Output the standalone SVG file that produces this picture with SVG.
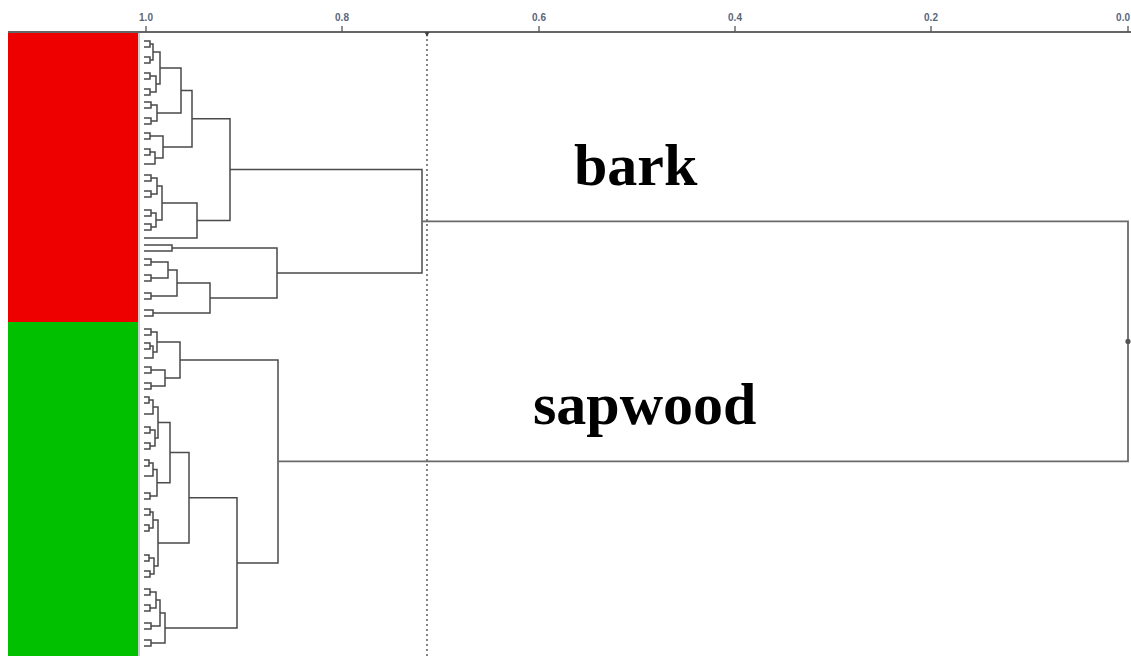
<svg xmlns="http://www.w3.org/2000/svg" width="1131" height="656" viewBox="0 0 1131 656">
  <style>
    .tick-label { font-family: "Liberation Sans", Arial, sans-serif; font-size: 10px; font-weight: bold; fill: #5b6578; text-anchor: middle; }
    .tick { stroke: #555; stroke-width: 1.3; }
    .axis { stroke: #666; stroke-width: 2; }
    .branch { fill: none; stroke: #4a4a4a; stroke-width: 1.5; stroke-linejoin: miter; }
    .trunk { fill: none; stroke: #6a6a6a; stroke-width: 1.8; }
    .cut { stroke: #444; stroke-width: 1.3; stroke-dasharray: 2 3; }
    .group-label { font-family: "Liberation Serif", "Times New Roman", serif; font-size: 60px; font-weight: bold; fill: #000; }
  </style>

  <rect width="1131" height="656" fill="#ffffff"/>

  <!-- class colour bars -->
  <g id="bar-bark">
    <rect x="8" y="32" width="130" height="290" fill="#ee0000"/>
  </g>
  <g id="bar-sapwood">
    <rect x="8" y="322" width="130" height="334" fill="#00c000"/>
  </g>
  <line x1="139" y1="32" x2="139" y2="656" stroke="#999" stroke-width="1"/>

  <!-- similarity axis -->
  <g id="axis">
    <line class="axis" x1="8" y1="32" x2="1131" y2="32"/>
    <line class="tick" x1="146" y1="26" x2="146" y2="32"/>
    <line class="tick" x1="342" y1="26" x2="342" y2="32"/>
    <line class="tick" x1="539" y1="26" x2="539" y2="32"/>
    <line class="tick" x1="735" y1="26" x2="735" y2="32"/>
    <line class="tick" x1="931" y1="26" x2="931" y2="32"/>
    <line class="tick" x1="1128" y1="26" x2="1128" y2="32"/>
    <text class="tick-label" x="146" y="21">1.0</text>
    <text class="tick-label" x="342" y="21">0.8</text>
    <text class="tick-label" x="539" y="21">0.6</text>
    <text class="tick-label" x="735" y="21">0.4</text>
    <text class="tick-label" x="931" y="21">0.2</text>
    <text class="tick-label" x="1130" y="21" style="text-anchor: end">0.0</text>
  </g>

  <!-- cut-off level -->
  <g id="cutoff">
    <line class="cut" x1="427" y1="34" x2="427" y2="656"/>
    <path d="M424.5 32 L429.5 32 L427 37 Z" fill="#444"/>
  </g>

  <!-- dendrogram branches -->
  <g id="connectors">
    <!-- bark cluster -->
    <path class="branch" d="M144 41 H150 V47 H144"/>
    <path class="branch" d="M144 57 H150 V63 H144"/>
    <path class="branch" d="M150 44 H153 V60 H150"/>
    <path class="branch" d="M144 73 H150 V79 H144"/>
    <path class="branch" d="M144 89 H150 V95 H144"/>
    <path class="branch" d="M150 76 H156 V92 H150"/>
    <path class="branch" d="M153 52 H160 V84 H156"/>
    <path class="branch" d="M144 102 H151 V108 H144"/>
    <path class="branch" d="M144 118 H151 V124 H144"/>
    <path class="branch" d="M151 105 H157 V121 H151"/>
    <path class="branch" d="M160 68 H181 V113 H157"/>
    <path class="branch" d="M144 133 H150 V139 H144"/>
    <path class="branch" d="M144 149 H150 V155 H144"/>
    <path class="branch" d="M150 152 H155 V164 H144"/>
    <path class="branch" d="M150 136 H163 V158 H155"/>
    <path class="branch" d="M181 90.5 H192 V147 H163"/>
    <path class="branch" d="M144 175 H151 V181 H144"/>
    <path class="branch" d="M144 191 H151 V197 H144"/>
    <path class="branch" d="M151 178 H157 V194 H151"/>
    <path class="branch" d="M144 210 H151 V216 H144"/>
    <path class="branch" d="M144 224 H151 V230 H144"/>
    <path class="branch" d="M151 213 H156 V227 H151"/>
    <path class="branch" d="M157 186 H162 V220 H156"/>
    <path class="branch" d="M162 203 H197 V238 H144"/>
    <path class="branch" d="M192 118.75 H230 V220.5 H197"/>
    <path class="branch" d="M144 245 H172 V251 H144"/>
    <path class="branch" d="M144 259 H151 V265 H144"/>
    <path class="branch" d="M144 275 H151 V281 H144"/>
    <path class="branch" d="M151 262 H168 V278 H151"/>
    <path class="branch" d="M144 293 H151 V299 H144"/>
    <path class="branch" d="M168 270 H177 V296 H151"/>
    <path class="branch" d="M144 310 H153 V316 H144"/>
    <path class="branch" d="M177 283 H210 V313 H153"/>
    <path class="branch" d="M172 248 H277 V298 H210"/>
    <path class="branch" d="M230 169.6 H422 V273 H277"/>

    <!-- sapwood cluster -->
    <path class="branch" d="M144 329 H151 V335 H144"/>
    <path class="branch" d="M144 343 H150 V349 H144"/>
    <path class="branch" d="M150 346 H153 V358 H144"/>
    <path class="branch" d="M151 332 H157 V352 H153"/>
    <path class="branch" d="M144 367 H151 V373 H144"/>
    <path class="branch" d="M144 383 H151 V389 H144"/>
    <path class="branch" d="M151 370 H165 V386 H151"/>
    <path class="branch" d="M157 342 H180 V378 H165"/>
    <path class="branch" d="M144 397 H149 V403 H144"/>
    <path class="branch" d="M149 400 H153 V414 H144"/>
    <path class="branch" d="M144 427 H150 V433 H144"/>
    <path class="branch" d="M144 443 H150 V449 H144"/>
    <path class="branch" d="M150 430 H155 V446 H150"/>
    <path class="branch" d="M153 407 H158 V438 H155"/>
    <path class="branch" d="M144 460 H149 V466 H144"/>
    <path class="branch" d="M149 463 H153 V476 H144"/>
    <path class="branch" d="M144 493 H150 V499 H144"/>
    <path class="branch" d="M153 469.5 H157 V496 H150"/>
    <path class="branch" d="M158 422.5 H170 V482.75 H157"/>
    <path class="branch" d="M144 509 H150 V515 H144"/>
    <path class="branch" d="M144 525 H149 V531 H144"/>
    <path class="branch" d="M150 512 H153 V528 H149"/>
    <path class="branch" d="M144 555 H149 V561 H144"/>
    <path class="branch" d="M144 571 H150 V577 H144"/>
    <path class="branch" d="M149 558 H154 V574 H150"/>
    <path class="branch" d="M153 520 H158 V566 H154"/>
    <path class="branch" d="M170 452.6 H189 V543 H158"/>
    <path class="branch" d="M144 589 H150 V595 H144"/>
    <path class="branch" d="M144 605 H150 V611 H144"/>
    <path class="branch" d="M150 592 H156 V608 H150"/>
    <path class="branch" d="M144 623 H151 V629 H144"/>
    <path class="branch" d="M156 600 H160 V626 H151"/>
    <path class="branch" d="M144 640 H151 V646 H144"/>
    <path class="branch" d="M160 613 H165 V643 H151"/>
    <path class="branch" d="M189 497.8 H237 V628 H165"/>
    <path class="branch" d="M180 360 H278 V562.9 H237"/>

    <!-- root join -->
    <path class="trunk" d="M422 221.3 H1128 V461.45 H278"/>
    <circle cx="1128" cy="341.4" r="2.6" fill="#555"/>
  </g>

  <!-- cluster labels -->
  <g id="label-bark">
    <text class="group-label" x="574" y="185">bark</text>
  </g>
  <g id="label-sapwood">
    <text class="group-label" x="533" y="424">sapwood</text>
  </g>
</svg>
